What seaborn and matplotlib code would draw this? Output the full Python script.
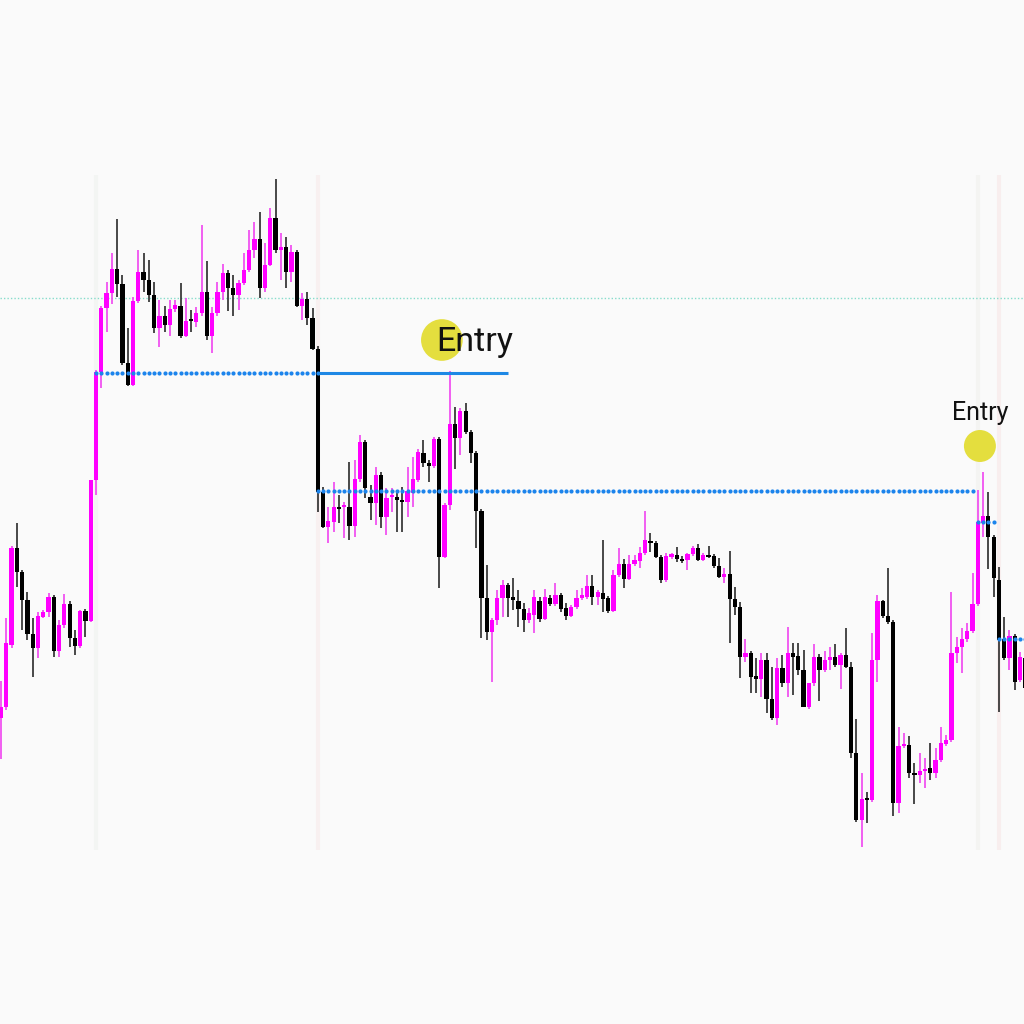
import numpy as np
import pandas as pd
import seaborn as sns
import matplotlib.pyplot as plt

# ---- candle data (price units), one entry per bar ----
opens = [282, 293, 355, 452, 428, 400, 366, 352, 383, 388,
         403, 349, 375, 396, 362, 354, 389, 379, 520, 628,
         692, 707, 731, 716, 637, 615, 699, 728, 720, 705,
         672, 684, 675, 691, 694, 664, 680, 678, 687, 708,
         664, 687, 708, 727, 712, 705, 717, 730, 750, 761,
         712, 735, 782, 750, 753, 728, 748, 694, 701, 682,
         651, 508, 473, 478, 493, 493, 493, 474, 521, 558,
         503, 497, 525, 483, 503, 503, 500, 498, 507, 520,
         547, 537, 534, 561, 443, 495, 576, 562, 589, 568,
         547, 489, 402, 368, 380, 402, 415, 403, 399, 391,
         380, 385, 399, 381, 402, 396, 405, 392, 384, 393,
         402, 403, 414, 403, 407, 402, 389, 425, 436, 421,
         436, 439, 447, 459, 457, 443, 420, 443, 445, 441,
         440, 446, 452, 440, 445, 444, 434, 423, 426, 401,
         393, 343, 347, 324, 321, 340, 301, 282, 332, 317,
         347, 344, 330, 293, 317, 343, 330, 340, 343, 335,
         345, 333, 247, 180, 202, 200, 340, 399, 384, 378,
         197, 254, 255, 227, 225, 229, 232, 227, 240, 256,
         260, 347, 353, 361, 369, 396, 477, 484, 463, 420,
         361, 342, 364, 320, 342]
highs = [319, 382, 454, 477, 430, 408, 382, 388, 390, 407,
         405, 380, 406, 399, 370, 390, 391, 520, 630, 694,
         718, 747, 781, 725, 672, 703, 750, 747, 740, 718,
         700, 694, 700, 700, 717, 702, 690, 693, 775, 739,
         693, 718, 736, 730, 725, 720, 747, 770, 778, 788,
         757, 792, 821, 767, 763, 755, 750, 707, 708, 692,
         654, 513, 493, 518, 505, 498, 538, 540, 565, 560,
         515, 533, 528, 512, 512, 510, 513, 533, 543, 551,
         560, 540, 563, 563, 497, 629, 593, 592, 597, 570,
         549, 491, 435, 382, 410, 420, 417, 422, 410, 397,
         392, 410, 403, 411, 405, 417, 407, 397, 395, 410,
         412, 425, 425, 410, 460, 404, 430, 452, 441, 445,
         445, 453, 489, 467, 459, 445, 447, 447, 453, 444,
         447, 454, 456, 447, 454, 446, 442, 432, 449, 413,
         398, 361, 349, 342, 347, 347, 333, 342, 345, 373,
         357, 357, 350, 317, 356, 346, 349, 353, 356, 347,
         372, 338, 281, 227, 208, 367, 405, 400, 432, 380,
         273, 267, 264, 237, 247, 242, 257, 252, 273, 265,
         408, 363, 372, 377, 427, 510, 528, 508, 465, 433,
         383, 370, 366, 348, 350]
lows = [241, 290, 352, 413, 370, 360, 323, 342, 382, 383,
        343, 343, 372, 353, 345, 352, 363, 378, 505, 612,
        668, 696, 703, 635, 614, 614, 697, 708, 698, 667,
        653, 668, 664, 688, 662, 663, 668, 673, 684, 660,
        647, 684, 700, 689, 684, 690, 715, 728, 742, 702,
        708, 734, 747, 720, 712, 718, 693, 680, 675, 650,
        488, 472, 457, 468, 477, 462, 460, 463, 518, 502,
        480, 475, 472, 465, 488, 468, 468, 483, 493, 518,
        533, 518, 532, 412, 442, 490, 531, 545, 566, 537,
        452, 362, 360, 318, 375, 383, 383, 390, 373, 368,
        377, 367, 378, 380, 394, 394, 388, 380, 383, 391,
        400, 401, 395, 395, 388, 387, 388, 423, 412, 420,
        434, 432, 445, 448, 442, 417, 418, 441, 438, 437,
        430, 444, 439, 439, 442, 432, 422, 417, 357, 385,
        322, 338, 307, 307, 303, 287, 280, 275, 313, 303,
        305, 325, 293, 291, 314, 299, 328, 330, 333, 311,
        332, 242, 178, 153, 177, 198, 318, 382, 376, 184,
        187, 252, 222, 196, 217, 212, 220, 222, 238, 254,
        258, 337, 327, 358, 367, 394, 463, 431, 403, 288,
        340, 330, 310, 318, 310]
closes = [293, 357, 452, 428, 400, 366, 352, 384, 388, 403,
          349, 375, 396, 362, 354, 389, 379, 520, 628, 692,
          707, 731, 716, 637, 615, 699, 728, 720, 705, 672,
          684, 675, 691, 695, 664, 679, 679, 687, 708, 664,
          687, 708, 727, 712, 705, 717, 730, 750, 761, 712,
          735, 782, 750, 753, 728, 748, 694, 701, 682, 651,
          508, 473, 479, 493, 491, 495, 474, 521, 558, 512,
          497, 525, 483, 502, 505, 500, 498, 509, 521, 548,
          537, 534, 561, 443, 495, 576, 562, 589, 568, 547,
          489, 402, 368, 380, 402, 415, 402, 400, 391, 380,
          387, 403, 381, 403, 396, 405, 391, 384, 393, 402,
          405, 414, 403, 408, 401, 389, 425, 436, 421, 436,
          440, 447, 460, 457, 443, 420, 444, 446, 441, 439,
          446, 452, 440, 445, 443, 434, 423, 426, 401, 393,
          343, 347, 323, 321, 340, 301, 282, 332, 317, 347,
          343, 330, 293, 317, 343, 330, 340, 343, 335, 345,
          333, 247, 180, 201, 200, 340, 399, 384, 378, 197,
          254, 256, 227, 225, 229, 231, 227, 240, 257, 260,
          347, 353, 361, 369, 396, 478, 484, 463, 422, 360,
          342, 364, 318, 343, 312]

# level lines: (start bar, end bar, price)
dotted_levels = [(18, 60, 627), (60, 184, 509), (185, 188, 478), (189, 194, 361)]
solid_level = (60, 96, 627)
cyan_level = 702
separators = [18, 60, 185, 189]
sep_colors = ['#f3f5f3', '#f8f0f0', '#f4f4f2', '#f8eeee']

entry_x = [83.5, 185.4]
entry_y = [660, 554]
entry_size = [900, 530]
entry_label_x = [82.4, 185.4]
entry_label_y = [658, 587]
entry_fs = [24.5, 18]

df = pd.DataFrame({'open': opens, 'high': highs, 'low': lows, 'close': closes})
df['bar'] = np.arange(len(df))
df['bull'] = df['close'] >= df['open']

sns.set_theme(style="white")
plt.rcParams['font.family'] = ['Roboto', 'DejaVu Sans']

bg = '#fafafa'
fig = plt.figure(figsize=(10.24, 10.24), dpi=100, facecolor=bg)
ax = fig.add_axes([0, 0, 1, 1])
ax.set_facecolor(bg)

# period separators
for s, c in zip(separators, sep_colors):
    ax.vlines(s, 150, 825, color=c, lw=3, zorder=0)

# cyan dotted line
ax.axhline(cyan_level, color='#86dccb', lw=1, ls=(0, (1, 1.5)), zorder=1)

# wicks
bull = df[df['bull']]
bear = df[~df['bull']]
ax.vlines(bull['bar'], bull['low'], bull['high'], color='#f044f0', lw=1.2, zorder=2)
ax.vlines(bear['bar'], bear['low'], bear['high'], color='#2a2a2a', lw=1.2, zorder=2)

# bodies
w = 0.8
bh = (df['close'] - df['open']).abs().clip(lower=2)
bb = df[['open', 'close']].min(axis=1)
ax.bar(df['bar'], bh, bottom=bb, width=w,
       color=np.where(df['bull'], '#ff00ff', '#000000'), linewidth=0, zorder=3)

# levels
blue = '#1c84ec'
for a, b, lvl in dotted_levels:
    xs = np.arange(a, b + 1)
    ax.plot(xs, np.full(len(xs), lvl), 'o', ms=3, color=blue, mec='none', zorder=4)
ax.hlines(solid_level[2], solid_level[0], solid_level[1], color='#1e88e5', lw=2.2, zorder=4)

# entry markers
sns.scatterplot(x=entry_x, y=entry_y, s=entry_size, color='#e4de3e',
                edgecolor='none', ax=ax, zorder=5, legend=False)
ax.text(entry_label_x[0], entry_label_y[0], 'Entry', fontsize=entry_fs[0],
        ha='left', va='center', color='#111111', zorder=6)
ax.text(entry_label_x[1], entry_label_y[1], 'Entry', fontsize=entry_fs[1],
        ha='center', va='center', color='#111111', zorder=6)

ax.set_xlim(-0.19, 193.75)
ax.set_ylim(-24, 1000)
ax.axis('off')

fig.savefig('out.png', dpi=100, facecolor=bg)
